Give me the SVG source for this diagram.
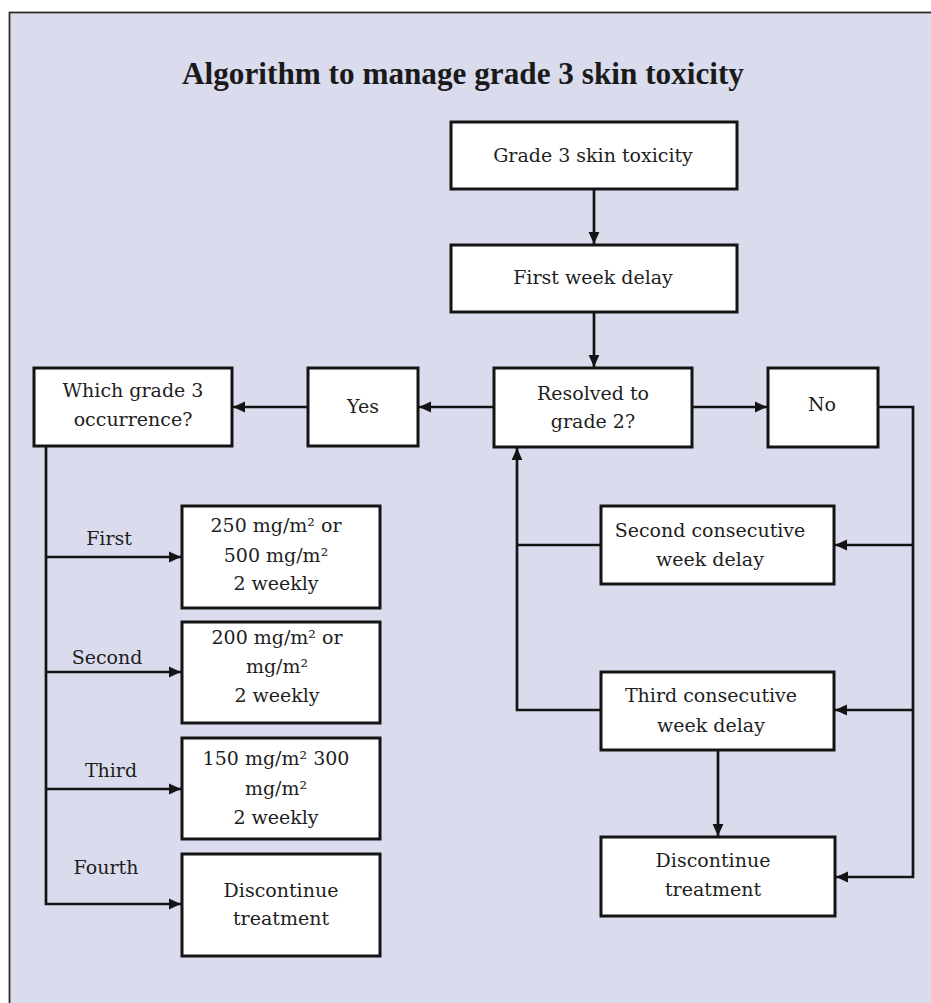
<svg xmlns="http://www.w3.org/2000/svg" width="931" height="1003" viewBox="0 0 931 1003">
  <style>
    .box { fill: #ffffff; stroke: #141414; stroke-width: 3; }
    .lbl { font-family: "DejaVu Serif", "Liberation Serif", serif; font-size: 19px; fill: #1e1e1e; text-anchor: middle; }
    .title { font-family: "Liberation Serif", "DejaVu Serif", serif; font-size: 31px; font-weight: bold; fill: #1a1a1a; text-anchor: middle; }
    .wire { fill: none; stroke: #141414; stroke-width: 2.7; stroke-linejoin: miter; }
  </style>
  <defs>
    <marker id="arrow" viewBox="0 0 10 10" refX="10" refY="5" markerWidth="12" markerHeight="12" markerUnits="userSpaceOnUse" orient="auto">
      <path d="M0,0.5 L10,5 L0,9.5 z" fill="#141414"/>
    </marker>
  </defs>

  <!-- page and panel -->
  <rect x="0" y="0" width="931" height="1003" fill="#ffffff"/>
  <rect x="9.5" y="12.5" width="940" height="1010" fill="#dadced" stroke="#2e2e2e" stroke-width="1.8"/>

  <text class="title" x="463" y="84" textLength="562" lengthAdjust="spacingAndGlyphs">Algorithm to manage grade 3 skin toxicity</text>

  <!-- connectors -->
  <g id="connectors">
    <path class="wire" d="M594,189 V244" marker-end="url(#arrow)"/>
    <path class="wire" d="M594,312 V367" marker-end="url(#arrow)"/>
    <path class="wire" d="M692,407 H767" marker-end="url(#arrow)"/>
    <path class="wire" d="M494,407 H419" marker-end="url(#arrow)"/>
    <path class="wire" d="M308,407 H233" marker-end="url(#arrow)"/>
    <path class="wire" d="M878,407 H913 V877 H836" marker-end="url(#arrow)"/>
    <path class="wire" d="M913,545 H835" marker-end="url(#arrow)"/>
    <path class="wire" d="M913,710 H835" marker-end="url(#arrow)"/>
    <path class="wire" d="M601,545 H517"/>
    <path class="wire" d="M601,710 H517 V448" marker-end="url(#arrow)"/>
    <path class="wire" d="M718,750 V836" marker-end="url(#arrow)"/>
    <path class="wire" d="M46,442 V904 H181" marker-end="url(#arrow)"/>
    <path class="wire" d="M46,557 H181" marker-end="url(#arrow)"/>
    <path class="wire" d="M46,672 H181" marker-end="url(#arrow)"/>
    <path class="wire" d="M46,789 H181" marker-end="url(#arrow)"/>
    <text class="lbl" x="109" y="545">First</text>
    <text class="lbl" x="107" y="664">Second</text>
    <text class="lbl" x="111" y="777">Third</text>
    <text class="lbl" x="106" y="874">Fourth</text>
  </g>

  <!-- nodes -->
  <g id="grade3">
    <rect class="box" x="451" y="122" width="286" height="67"/>
    <text class="lbl" x="593" y="162">Grade 3 skin toxicity</text>
  </g>
  <g id="firstDelay">
    <rect class="box" x="451" y="245" width="286" height="67"/>
    <text class="lbl" x="593" y="284">First week delay</text>
  </g>
  <g id="resolved">
    <rect class="box" x="494" y="368" width="198" height="79"/>
    <text class="lbl" x="593" y="400">Resolved to</text>
    <text class="lbl" x="593" y="428">grade 2?</text>
  </g>
  <g id="no">
    <rect class="box" x="768" y="368" width="110" height="79"/>
    <text class="lbl" x="822" y="411">No</text>
  </g>
  <g id="yes">
    <rect class="box" x="308" y="368" width="110" height="78"/>
    <text class="lbl" x="363" y="413">Yes</text>
  </g>
  <g id="occurrence">
    <rect class="box" x="34" y="368" width="198" height="78"/>
    <text class="lbl" x="133" y="397">Which grade 3</text>
    <text class="lbl" x="133" y="426">occurrence?</text>
  </g>
  <g id="dose1">
    <rect class="box" x="182" y="506" width="198" height="102"/>
    <text class="lbl" x="276" y="532">250 mg/m² or</text>
    <text class="lbl" x="276" y="562">500 mg/m²</text>
    <text class="lbl" x="276" y="590">2 weekly</text>
  </g>
  <g id="dose2">
    <rect class="box" x="182" y="622" width="198" height="101"/>
    <text class="lbl" x="277" y="644">200 mg/m² or</text>
    <text class="lbl" x="277" y="673">mg/m²</text>
    <text class="lbl" x="277" y="702">2 weekly</text>
  </g>
  <g id="dose3">
    <rect class="box" x="182" y="738" width="198" height="101"/>
    <text class="lbl" x="276" y="765">150 mg/m² 300</text>
    <text class="lbl" x="276" y="795">mg/m²</text>
    <text class="lbl" x="276" y="824">2 weekly</text>
  </g>
  <g id="discontinueLeft">
    <rect class="box" x="182" y="854" width="198" height="102"/>
    <text class="lbl" x="281" y="897">Discontinue</text>
    <text class="lbl" x="281" y="925">treatment</text>
  </g>
  <g id="secondDelay">
    <rect class="box" x="601" y="506" width="233" height="78"/>
    <text class="lbl" x="710" y="537">Second consecutive</text>
    <text class="lbl" x="710" y="566">week delay</text>
  </g>
  <g id="thirdDelay">
    <rect class="box" x="601" y="672" width="233" height="78"/>
    <text class="lbl" x="711" y="702">Third consecutive</text>
    <text class="lbl" x="711" y="732">week delay</text>
  </g>
  <g id="discontinueRight">
    <rect class="box" x="601" y="837" width="234" height="79"/>
    <text class="lbl" x="713" y="867">Discontinue</text>
    <text class="lbl" x="713" y="896">treatment</text>
  </g>
</svg>
